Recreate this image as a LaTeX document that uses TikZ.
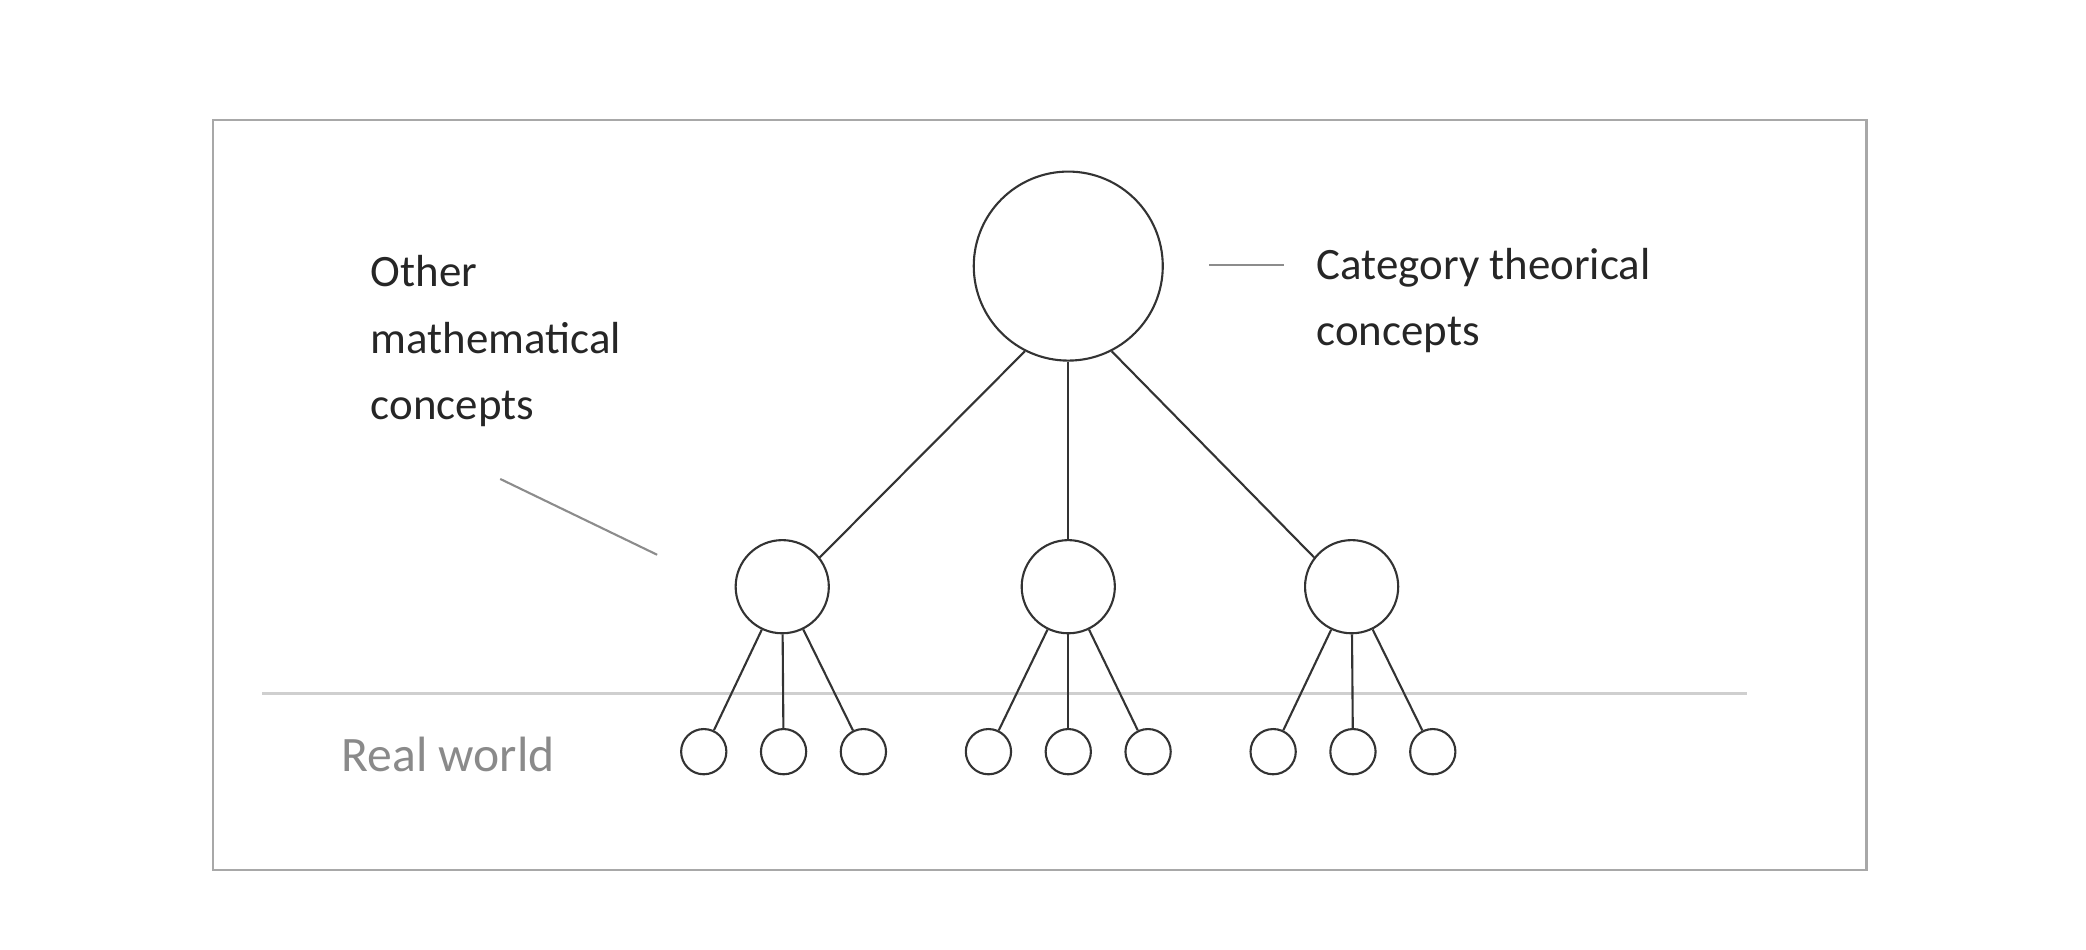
\documentclass[tikz,border=0pt]{standalone}
\usepackage{fontspec}
\setmainfont{Carlito}
\definecolor{framegray}{HTML}{A8A8A8}
\definecolor{sepgray}{HTML}{CFCFCF}
\definecolor{leadgray}{HTML}{8C8C8C}
\definecolor{textgray}{HTML}{8A8A8A}
\definecolor{inkdark}{HTML}{333333}
\begin{document}
\begin{tikzpicture}[x=0.01cm,y=-0.01cm,
  concept/.style={circle,draw=inkdark,line width=0.45pt,inner sep=0pt,minimum size=#1},
  edge/.style={draw=inkdark,line width=0.45pt},
  leader/.style={draw=leadgray,line width=0.45pt},
  lbl/.style={anchor=base west,inner sep=0pt,text=black!85,font=\fontsize{9.6}{14.2}\selectfont},
  rw/.style={anchor=base west,inner sep=0pt,text=textgray,font=\fontsize{10.6}{14}\selectfont}]
\useasboundingbox (0,0) rectangle (1568,714);
\draw[framegray,line width=0.5pt] (160,90) rectangle (1403,654);
\draw[sepgray,line width=0.6pt] (197,521) -- (1313,521);
% nodes
\node[concept=1.42cm] (top) at (803,200) {};
\node[concept=0.70cm] (m1) at (588,441) {};
\node[concept=0.70cm] (m2) at (803,441) {};
\node[concept=0.70cm] (m3) at (1016,441) {};
\foreach \n/\x in {a1/529,a2/589,a3/649,b1/743,b2/803,b3/863,c1/957,c2/1017,c3/1077}
  \node[concept=0.34cm] (\n) at (\x,565) {};
% edges
\draw[edge] (top.243) -- (m1.38);
\draw[edge] (top) -- (m2);
\draw[edge] (top.297) -- (m3.142);
\foreach \s in {a1,a2,a3} \draw[edge] (m1) -- (\s);
\foreach \s in {b1,b2,b3} \draw[edge] (m2) -- (\s);
\foreach \s in {c1,c2,c3} \draw[edge] (m3) -- (\s);
% labels
\node[lbl] (o1) at (278,215.7) {Other};
\node[lbl] (o2) at (278,265.5) {mathematical};
\node[lbl] (o3) at (278,315.5) {concepts};
\node[lbl] (k1) at (989,210) {Category theorical};
\node[lbl] (k2) at (989,259.5) {concepts};
\node[rw] (rwl) at (256,580) {Real world};
% leader lines
\coordinate (la) at (376,360);
\coordinate (lb) at (494,417);
\coordinate (lc) at (909,199);
\coordinate (ld) at (965,199);
\draw[leader] (la) -- (lb);
\draw[leader] (lc) -- (ld);
\end{tikzpicture}
\end{document}
